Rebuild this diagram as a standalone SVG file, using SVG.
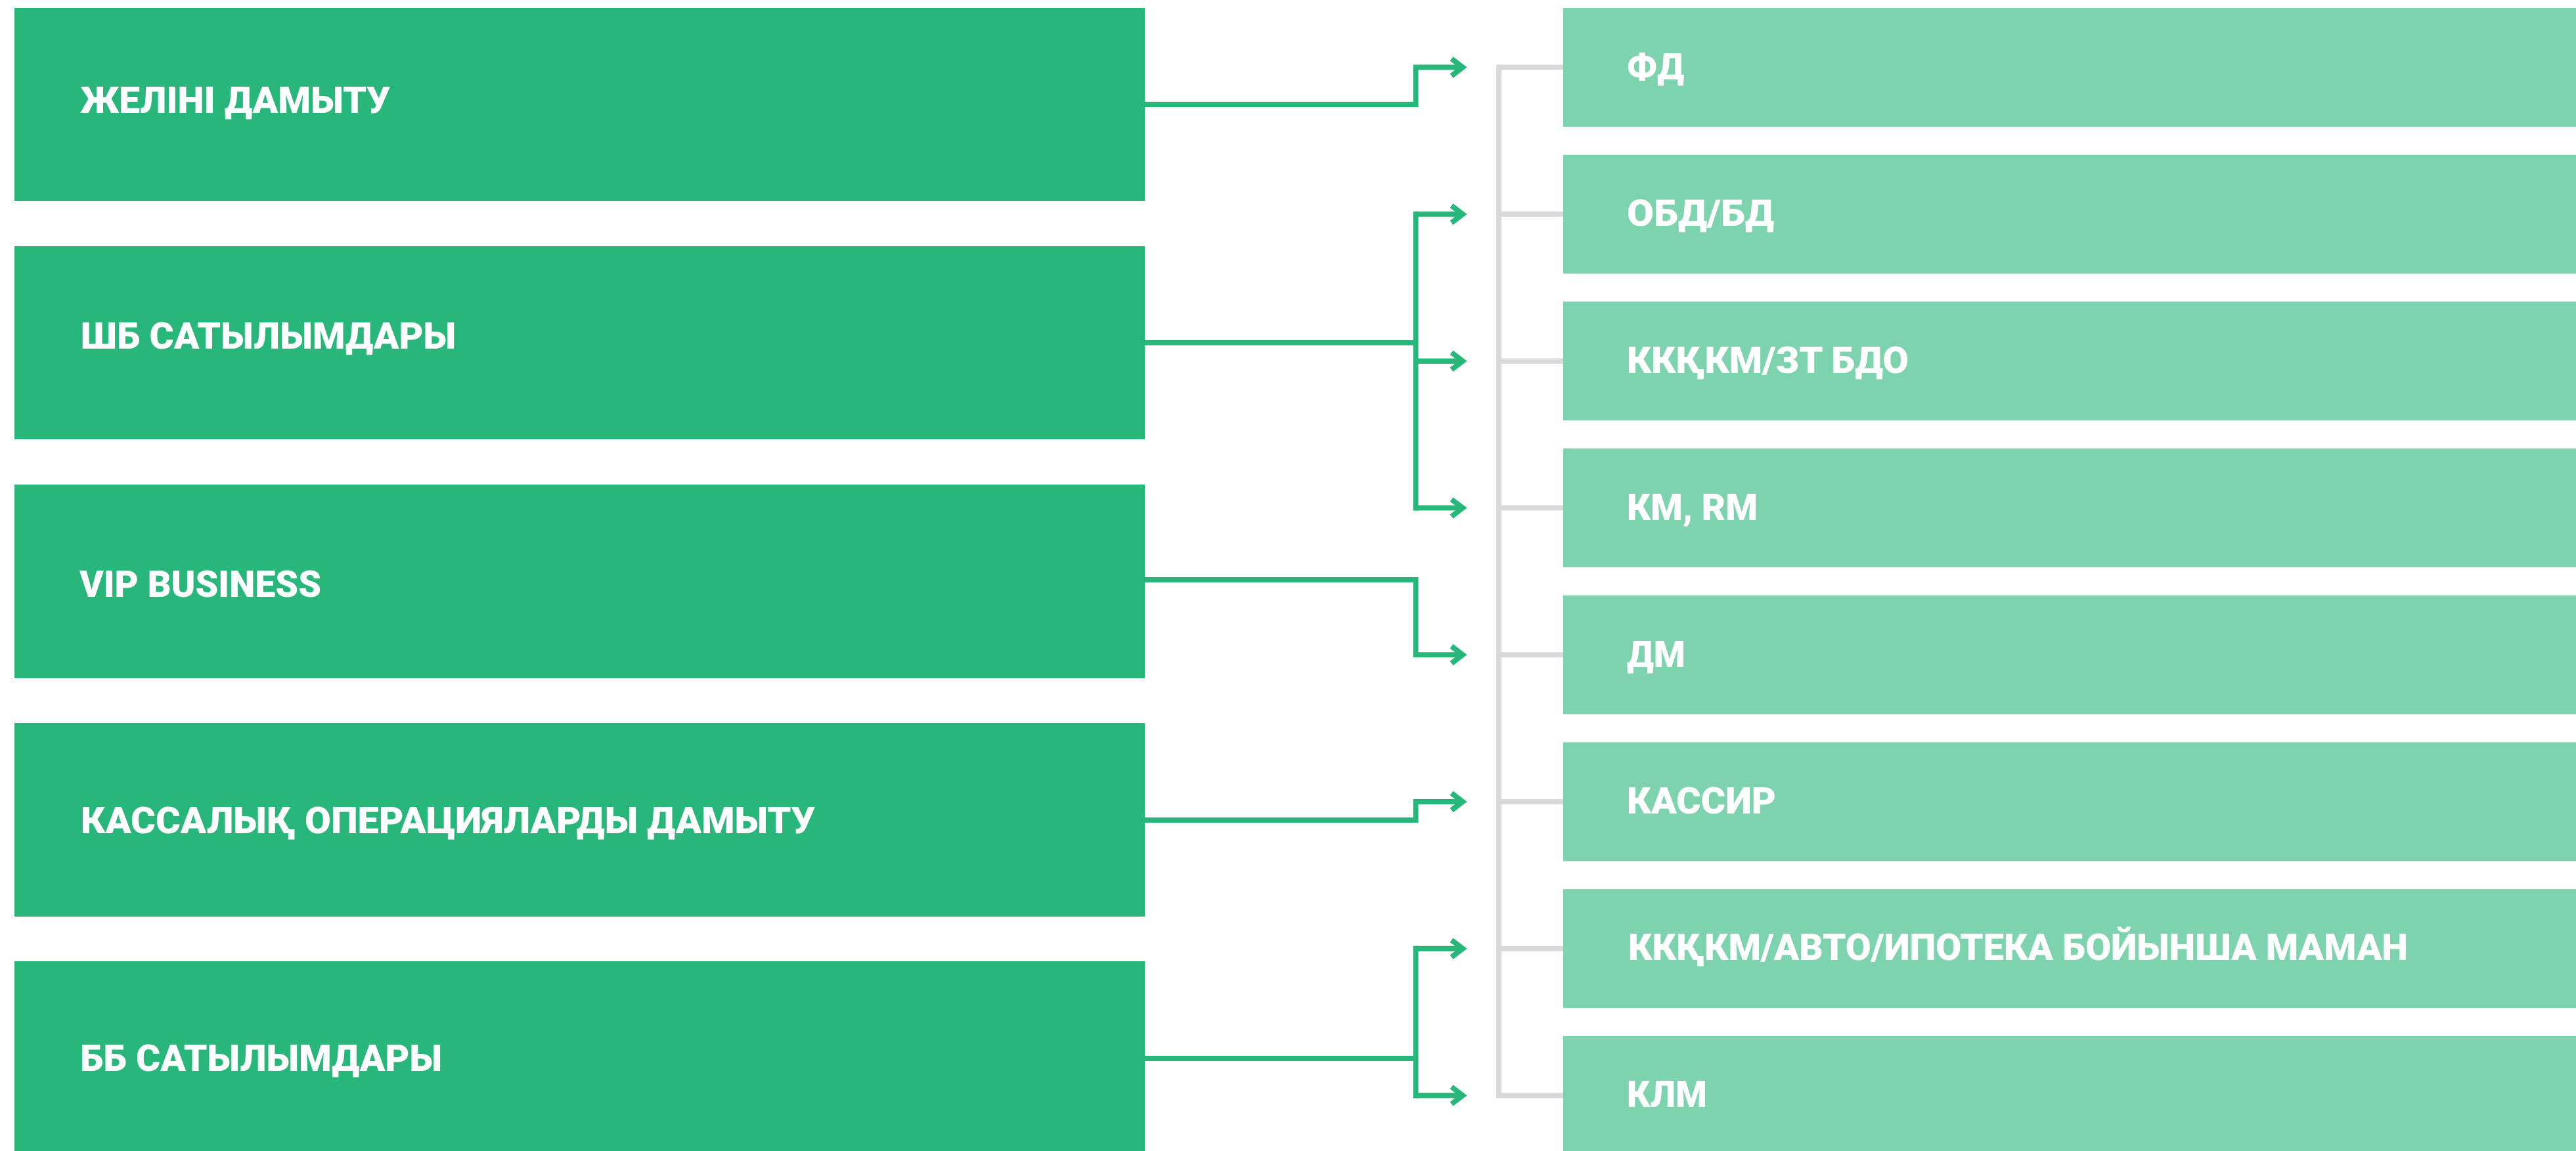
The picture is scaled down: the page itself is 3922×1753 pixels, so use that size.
<svg xmlns="http://www.w3.org/2000/svg" width="3922" height="1753" viewBox="0 0 3922 1753">
<style>
.src{fill:#29b67a}
.dst{fill:#7dd3ae}
.lbl{font-family:Roboto,"Liberation Sans","DejaVu Sans",sans-serif;font-weight:900;font-size:56px;fill:#ffffff}
.con{fill:none;stroke:#29b67a;stroke-width:8;stroke-linejoin:miter}
.gry{fill:none;stroke:#d9d9d9;stroke-width:8}
</style>
<defs>
<marker id="arr" markerUnits="userSpaceOnUse" markerWidth="60" markerHeight="60" viewBox="-30 -30 60 60" refX="0" refY="0" orient="auto" overflow="visible">
<path d="M-16,-13 L1,0 L-16,13" fill="none" stroke="#29b67a" stroke-width="8" stroke-linejoin="miter" stroke-miterlimit="10"/>
</marker>
</defs>
<rect width="3922" height="1753" fill="#ffffff"/>

<g id="src1"><rect class="src" x="22" y="12" width="1721" height="294"/><text class="lbl" x="122" y="172" textLength="472" lengthAdjust="spacingAndGlyphs">ЖЕЛІНІ ДАМЫТУ</text></g>
<g id="src2"><rect class="src" x="22" y="375" width="1721" height="294"/><text class="lbl" x="123" y="531" textLength="571" lengthAdjust="spacingAndGlyphs">ШБ САТЫЛЫМДАРЫ</text></g>
<g id="src3"><rect class="src" x="22" y="738" width="1721" height="295"/><text class="lbl" x="121" y="909" textLength="368" lengthAdjust="spacingAndGlyphs">VIP BUSINESS</text></g>
<g id="src4"><rect class="src" x="22" y="1101" width="1721" height="295"/><text class="lbl" x="123" y="1269" textLength="1118" lengthAdjust="spacingAndGlyphs">КАССАЛЫҚ ОПЕРАЦИЯЛАРДЫ ДАМЫТУ</text></g>
<g id="src5"><rect class="src" x="22" y="1464" width="1721" height="294"/><text class="lbl" x="122" y="1631" textLength="551" lengthAdjust="spacingAndGlyphs">ББ САТЫЛЫМДАРЫ</text></g>

<g id="dst1"><rect class="dst" x="2380" y="12" width="1542" height="181"/><text class="lbl" x="2477" y="120.5" textLength="87" lengthAdjust="spacingAndGlyphs">ФД</text></g>
<g id="dst2"><rect class="dst" x="2380" y="235.7" width="1542" height="181"/><text class="lbl" x="2477" y="344.2" textLength="224" lengthAdjust="spacingAndGlyphs">ОБД/БД</text></g>
<g id="dst3"><rect class="dst" x="2380" y="459.4" width="1542" height="181"/><text class="lbl" x="2477" y="567.9" textLength="429" lengthAdjust="spacingAndGlyphs">ККҚКМ/ЗТ БДО</text></g>
<g id="dst4"><rect class="dst" x="2380" y="683.1" width="1542" height="181"/><text class="lbl" x="2477" y="791.6" textLength="199" lengthAdjust="spacingAndGlyphs">КМ, RM</text></g>
<g id="dst5"><rect class="dst" x="2380" y="906.8" width="1542" height="181"/><text class="lbl" x="2477" y="1016.3" textLength="89" lengthAdjust="spacingAndGlyphs">ДМ</text></g>
<g id="dst6"><rect class="dst" x="2380" y="1130.5" width="1542" height="181"/><text class="lbl" x="2477" y="1239" textLength="227" lengthAdjust="spacingAndGlyphs">КАССИР</text></g>
<g id="dst7"><rect class="dst" x="2380" y="1354.2" width="1542" height="181"/><text class="lbl" x="2479" y="1462" textLength="1187" lengthAdjust="spacingAndGlyphs">ККҚКМ/АВТО/ИПОТЕКА БОЙЫНША МАМАН</text></g>
<g id="dst8"><rect class="dst" x="2380" y="1577.9" width="1542" height="181"/><text class="lbl" x="2477" y="1686.4" textLength="122" lengthAdjust="spacingAndGlyphs">КЛМ</text></g>

<g id="connectors">
<path class="gry" d="M2282,102.5 V1668.4" stroke-linecap="square"/>
<path class="gry" d="M2282,102.5 H2380 M2282,326.2 H2380 M2282,549.9 H2380 M2282,773.6 H2380 M2282,997.3 H2380 M2282,1221 H2380 M2282,1444.7 H2380 M2282,1668.4 H2380"/>

<path class="con" d="M1743,159 H2155.5 V102.5 H2226" marker-end="url(#arr)"/>

<path class="con" d="M1743,522 H2155.5"/>
<path class="con" d="M2155.5,326.2 V773.6" stroke-linecap="square"/>
<path class="con" d="M2155.5,326.2 H2226" marker-end="url(#arr)"/>
<path class="con" d="M2155.5,549.9 H2226" marker-end="url(#arr)"/>
<path class="con" d="M2155.5,773.6 H2226" marker-end="url(#arr)"/>

<path class="con" d="M1743,883 H2155.5 V997.3 H2226" marker-end="url(#arr)"/>

<path class="con" d="M1743,1249 H2155.5 V1221 H2226" marker-end="url(#arr)"/>

<path class="con" d="M1743,1612 H2155.5"/>
<path class="con" d="M2155.5,1444.7 V1668.4" stroke-linecap="square"/>
<path class="con" d="M2155.5,1444.7 H2226" marker-end="url(#arr)"/>
<path class="con" d="M2155.5,1668.4 H2226" marker-end="url(#arr)"/>
</g>
</svg>
